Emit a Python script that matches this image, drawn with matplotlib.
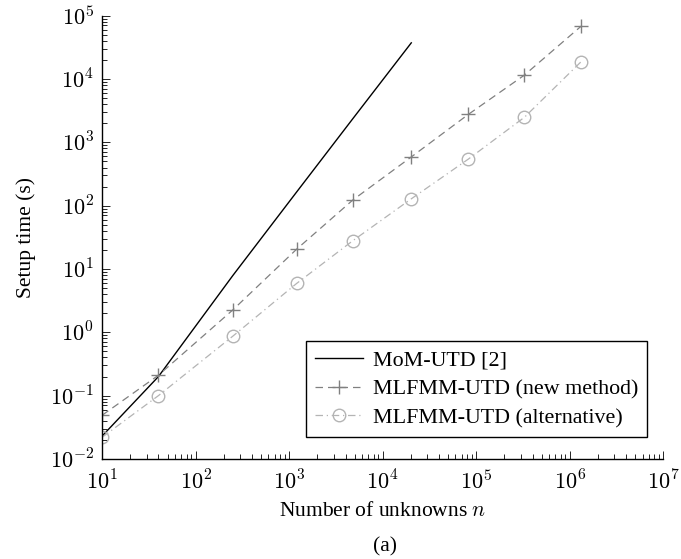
import matplotlib
matplotlib.use("Agg")
import matplotlib.pyplot as plt
from matplotlib.ticker import LogLocator, NullFormatter, FuncFormatter
import numpy as np

# data
n_new = [10, 40, 250, 1200, 4800, 20200, 82600, 327000, 1.32e6]
t_new = [0.049, 0.21, 2.26, 20.5, 123, 587, 2770, 11500, 68000]
n_alt = [10, 40, 250, 1200, 4800, 20200, 82600, 327000, 1.32e6]
t_alt = [0.022, 0.10, 0.87, 5.9, 28, 128, 545, 2480, 18700]
n_mom = [10, 40, 250, 1200, 4800, 20200]
t_mom = [0.023, 0.2, 7.9, 164, 2370, 37200]

x_ticks = [1e1, 1e2, 1e3, 1e4, 1e5, 1e6, 1e7]
y_ticks = [1e-2, 1e-1, 1e0, 1e1, 1e2, 1e3, 1e4, 1e5]

plt.rcParams['font.family'] = ['Liberation Serif', 'DejaVu Serif']
plt.rcParams['mathtext.fontset'] = 'cm'
plt.rcParams['font.size'] = 15.5

def pow10(v, pos):
    return r'$10^{%d}$' % int(round(np.log10(v)))

fig = plt.figure(figsize=(6.81, 5.59), dpi=100)
ax = fig.add_axes([0.15, 0.179, 0.824, 0.793])

ax.plot(n_mom, t_mom, color='black', lw=1.0, label='MoM-UTD [2]')
ax.plot(n_new, t_new, color='#808080', lw=0.9, ls=(0, (6, 4)), marker='+',
        ms=10, mew=1.0, label='MLFMM-UTD (new method)')
ax.plot(n_alt, t_alt, color='#b4b4b4', lw=0.9, ls=(0, (6, 3, 1, 3)), marker='o',
        ms=9, mfc='none', mew=1.0, label='MLFMM-UTD (alternative)')

ax.set_xscale('log')
ax.set_yscale('log')
ax.set_xlim(10, 1e7)
ax.set_ylim(1e-2, 1e5)

ax.set_xticks(x_ticks)
ax.set_yticks(y_ticks)
ax.xaxis.set_minor_locator(LogLocator(base=10, subs=range(2, 10), numticks=20))
ax.yaxis.set_minor_locator(LogLocator(base=10, subs=range(2, 10), numticks=20))
ax.xaxis.set_major_formatter(FuncFormatter(pow10))
ax.yaxis.set_major_formatter(FuncFormatter(pow10))
ax.xaxis.set_minor_formatter(NullFormatter())
ax.yaxis.set_minor_formatter(NullFormatter())

for s in ['top', 'right']:
    ax.spines[s].set_visible(False)
ax.spines['left'].set_linewidth(1.0)
ax.spines['bottom'].set_linewidth(1.0)
ax.tick_params(which='both', direction='in', top=False, right=False, width=0.6)
ax.tick_params(which='major', length=6, labelsize=16)
ax.tick_params(axis='x', which='major', pad=8)
ax.tick_params(axis='y', which='major', pad=6)
ax.tick_params(which='minor', length=3.5)

ax.set_xlabel('Number of unknowns $n$', labelpad=6)
ax.set_ylabel('Setup time (s)', labelpad=10)

leg = ax.legend(loc='lower right', bbox_to_anchor=(0.971, 0.05), borderaxespad=0,
                fancybox=False, edgecolor='black', framealpha=1, fontsize=15.8,
                handlelength=2.2, handletextpad=0.45, borderpad=0.4,
                labelspacing=0.38)
leg.get_frame().set_linewidth(1.0)

fig.text(0.565, 0.022, '(a)', ha='center', va='center')

fig.savefig('out.png', dpi=100)
